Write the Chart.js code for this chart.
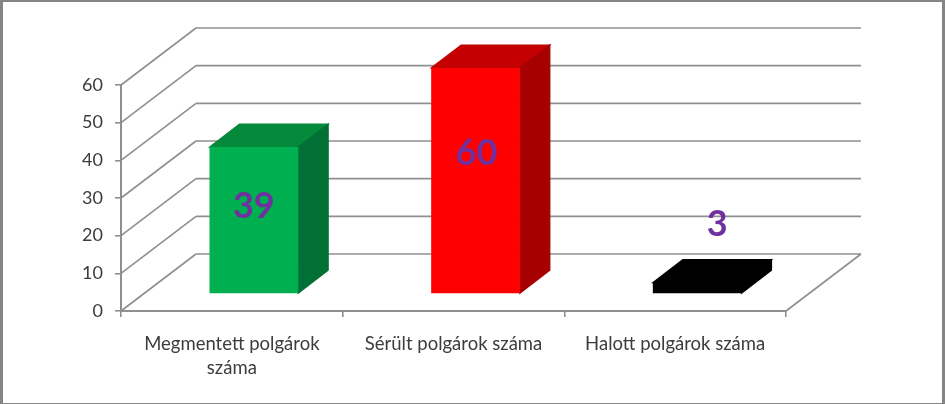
<!DOCTYPE html>
<html>
<head>
<meta charset="utf-8">
<style>html,body{margin:0;padding:0;background:#fff;overflow:hidden}canvas{display:block}</style>
<script src="https://cdn.jsdelivr.net/npm/chart.js@4"></script>
</head>
<body>
<canvas id="c" width="945" height="404" style="width:945px;height:404px"></canvas>
<script>
const categories = [["Megmentett polgárok", "száma"], "Sérült polgárok száma", "Halott polgárok száma"];
const seriesValues = [39, 60, 3];
const frontColors = ["#00b050", "#ff0000", "#000000"];
const topColors = ["#058a3c", "#c40000", "#000000"];
const sideColors = ["#007034", "#a60000", "#000000"];
const labelColor = "#7030a0";
const gridColor = "#8f8f8f";
const textColor = "#3c3c3c";

const WALL_DX = 75, WALL_DY = -57;      // depth of the box
const BAR_DX = 22, BAR_DY = -17;        // where bars sit in that depth
const BAR_D_X = 30, BAR_D_Y = -23;      // depth of a bar
const LABEL_SHIFT = [[0, -14], [1, -27], [20, -64]];

function line(ctx, x1, y1, x2, y2) {
  ctx.beginPath(); ctx.moveTo(x1, y1); ctx.lineTo(x2, y2); ctx.stroke();
}
function poly(ctx, pts, color) {
  ctx.fillStyle = color; ctx.strokeStyle = color; ctx.lineWidth = 1.2; ctx.beginPath();
  pts.forEach((p, i) => i ? ctx.lineTo(p[0], p[1]) : ctx.moveTo(p[0], p[1]));
  ctx.closePath(); ctx.fill(); ctx.stroke();
}

const box3d = {
  id: "box3d",
  beforeDraw(chart) {
    const { ctx, width, height } = chart;
    ctx.save();
    ctx.fillStyle = "#fff"; ctx.fillRect(0, 0, width, height);
    ctx.fillStyle = "#858585";
    ctx.fillRect(0, 0, 3, height);
    ctx.fillRect(width - 3, 0, 3, height);
    ctx.fillRect(0, 0, width, 2);
    ctx.fillRect(0, height - 1, width, 1);
    ctx.restore();
  },
  beforeDatasetsDraw(chart) {
    const { ctx, scales: { x, y }, chartArea: a } = chart;
    ctx.save();
    ctx.strokeStyle = gridColor; ctx.lineWidth = 1.6;
    y.ticks.forEach(t => {
      const py = y.getPixelForValue(t.value);
      line(ctx, a.left, py, a.left + WALL_DX, py + WALL_DY);
      line(ctx, a.left + WALL_DX, py + WALL_DY, a.right + WALL_DX, py + WALL_DY);
    });
    line(ctx, a.right, a.bottom, a.right + WALL_DX, a.bottom + WALL_DY);
    ctx.restore();
  },
  beforeDatasetDraw(chart) {
    const ctx = chart.ctx;
    ctx.save();
    const meta = chart.getDatasetMeta(0);
    meta.data.forEach((bar, i) => {
      const l = bar.x - bar.width / 2 + BAR_DX, r = bar.x + bar.width / 2 + BAR_DX;
      const t = bar.y + BAR_DY, b = bar.base + BAR_DY;
      poly(ctx, [[l, t], [r, t], [r + BAR_D_X, t + BAR_D_Y], [l + BAR_D_X, t + BAR_D_Y]], topColors[i]);
      poly(ctx, [[r, t], [r + BAR_D_X, t + BAR_D_Y], [r + BAR_D_X, b + BAR_D_Y], [r, b]], sideColors[i]);
    });
    ctx.translate(BAR_DX, BAR_DY);
  },
  afterDatasetDraw(chart) {
    const ctx = chart.ctx;
    ctx.restore();
    ctx.save();
    ctx.fillStyle = labelColor;
    ctx.font = 'bold 36px "Lato"';
    ctx.textAlign = "center"; ctx.textBaseline = "middle";
    chart.getDatasetMeta(0).data.forEach((bar, i) => {
      const cy = (bar.y + bar.base) / 2 + BAR_DY;
      ctx.fillText(String(seriesValues[i]), bar.x + BAR_DX + LABEL_SHIFT[i][0], cy + LABEL_SHIFT[i][1]);
    });
    ctx.restore();
  }
};

new Chart(document.getElementById("c"), {
  type: "bar",
  data: {
    labels: categories,
    datasets: [{
      data: seriesValues,
      backgroundColor: frontColors,
      borderWidth: 0,
      categoryPercentage: 0.4,
      barPercentage: 1
    }]
  },
  options: {
    responsive: false,
    animation: false,
    events: [],
    layout: { padding: { top: 85, right: 159, left: 0, bottom: 0 } },
    plugins: { legend: { display: false }, tooltip: { enabled: false }, title: { display: false } },
    scales: {
      x: {
        afterFit: s => { s.height = 93; },
        grid: { drawOnChartArea: false, color: gridColor, lineWidth: 1.6, tickLength: 6 },
        border: { display: true, color: gridColor, width: 2 },
        ticks: { maxRotation: 0, autoSkip: false, color: textColor, padding: 15, font: { family: "Lato", size: 18.5, lineHeight: 1.3 } }
      },
      y: {
        min: 0, max: 60,
        afterFit: s => { s.width = 121; },
        grid: { drawOnChartArea: false, color: gridColor, lineWidth: 1.6, tickLength: 6 },
        border: { display: true, color: gridColor, width: 2 },
        ticks: { stepSize: 10, color: textColor, padding: 12, font: { family: "Lato", size: 18 } }
      }
    }
  },
  plugins: [box3d]
});
</script>
</body>
</html>
